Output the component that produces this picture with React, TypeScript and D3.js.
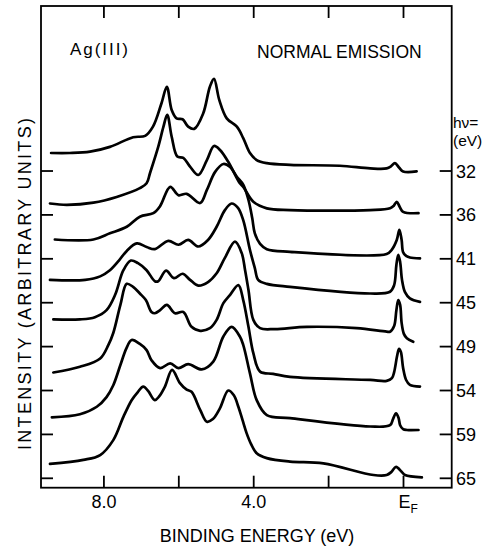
import React from "react";
import * as d3 from "d3";

type Pt = [number, number];

const photonEnergies = ["32", "36", "41", "45", "49", "54", "59", "65"];
const offsets = [70, 60, 50, 40, 30, 20, 10, 0];

// [binding energy (eV), intensity above the spectrum's own baseline (arb. units)]
const spectrum32: Pt[] = [[9.41,4.1],[8.91,4.1],[8.37,4.4],[7.84,5.5],[7.22,7.7],[6.90,8.0],[6.69,10.1],[6.46,15.5],[6.32,19.2],[6.19,13.9],[6.06,12.0],[5.90,11.8],[5.75,10.1],[5.59,9.6],[5.35,13.1],[5.17,19.2],[5.06,21.0],[4.92,16.2],[4.72,12.0],[4.45,10.1],[4.28,7.5],[4.10,4.1],[3.92,2.5],[3.65,1.8],[3.03,1.4],[1.70,1.2],[0.89,0.6],[0.45,0.6],[0.33,1.1],[0.23,1.8],[0.12,0.8],[0.01,-0.1],[-0.35,-0.1]];
const spectrum36: Pt[] = [[9.44,2.6],[8.99,2.3],[8.28,2.8],[7.66,4.1],[7.04,6.1],[6.86,7.2],[6.77,9.5],[6.55,15.5],[6.41,20.1],[6.31,22.8],[6.19,17.8],[6.04,13.3],[5.88,13.0],[5.70,11.0],[5.48,9.1],[5.25,12.5],[5.06,15.7],[4.90,14.8],[4.68,12.1],[4.37,7.2],[4.28,6.4],[4.01,3.0],[3.65,1.5],[3.03,1.1],[0.89,1.1],[0.36,1.5],[0.26,2.1],[0.18,3.0],[0.10,1.8],[0.01,0.7],[-0.40,0.4]];
const spectrum41: Pt[] = [[9.31,4.4],[8.28,4.4],[7.84,5.8],[7.39,7.3],[7.04,9.6],[6.68,10.4],[6.50,12.0],[6.23,16.4],[6.01,14.5],[5.79,14.8],[5.43,12.7],[5.25,15.7],[5.03,19.8],[4.81,21.6],[4.63,20.9],[4.45,18.7],[4.28,16.9],[4.14,13.4],[4.04,9.3],[3.97,5.8],[3.83,3.4],[3.65,2.2],[3.03,1.6],[0.45,1.1],[0.32,2.0],[0.18,4.3],[0.11,6.6],[0.05,4.3],[0.01,1.5],[-0.08,0.6],[-0.17,0.3],[-0.44,0.1]];
const spectrum45: Pt[] = [[9.44,5.2],[8.50,5.2],[8.10,6.0],[7.84,7.4],[7.60,9.6],[7.39,11.8],[7.12,13.5],[6.86,12.7],[6.64,12.2],[6.28,14.1],[6.01,13.2],[5.75,14.3],[5.48,12.8],[5.22,14.3],[4.99,17.3],[4.77,21.1],[4.59,22.6],[4.42,21.6],[4.28,18.8],[4.10,12.0],[3.97,7.9],[3.88,5.2],[3.65,4.3],[3.03,3.6],[0.89,2.1],[0.36,2.5],[0.25,4.0],[0.19,8.6],[0.14,10.9],[0.09,9.3],[0.04,5.2],[-0.04,2.4],[-0.17,1.0],[-0.44,0.2]];
const spectrum49: Pt[] = [[9.35,6.2],[8.64,6.2],[8.24,6.7],[7.93,8.3],[7.70,11.8],[7.48,17.4],[7.28,19.6],[7.09,19.0],[6.86,17.4],[6.64,14.9],[6.55,14.9],[6.34,17.3],[6.13,15.6],[5.90,16.6],[5.70,15.2],[5.48,13.9],[5.22,14.7],[4.99,16.7],[4.77,20.2],[4.50,23.9],[4.32,21.3],[4.23,17.4],[4.14,12.9],[4.01,6.1],[3.83,4.2],[3.43,4.0],[2.58,4.5],[1.25,4.2],[0.45,3.4],[0.36,3.4],[0.25,4.7],[0.19,8.3],[0.14,10.6],[0.09,9.5],[0.05,5.4],[-0.01,2.9],[-0.09,1.9],[-0.26,1.1]];
const spectrum54: Pt[] = [[9.35,4.1],[8.64,5.4],[8.10,7.3],[7.88,10.4],[7.75,13.1],[7.56,19.5],[7.39,24.3],[7.22,23.6],[7.04,22.1],[6.88,20.6],[6.73,17.9],[6.64,17.6],[6.50,18.3],[6.32,19.5],[6.10,17.6],[5.88,17.9],[5.66,14.5],[5.43,13.6],[5.17,14.2],[4.99,16.1],[4.81,19.9],[4.63,21.8],[4.41,24.0],[4.28,20.6],[4.14,14.5],[4.01,8.5],[3.83,4.3],[3.48,3.8],[3.03,3.1],[0.89,2.4],[0.45,2.2],[0.31,2.8],[0.25,4.2],[0.17,7.9],[0.12,9.5],[0.07,8.8],[0.01,5.1],[-0.07,2.4],[-0.17,1.3],[-0.44,0.9]];
const spectrum59: Pt[] = [[9.39,3.9],[8.64,4.6],[8.19,6.3],[7.93,8.5],[7.75,11.2],[7.56,15.8],[7.40,19.6],[7.26,21.5],[7.04,20.6],[6.86,19.2],[6.73,16.9],[6.50,15.1],[6.23,16.2],[6.01,15.1],[5.75,16.0],[5.39,14.8],[5.08,16.6],[4.81,22.3],[4.59,24.5],[4.37,22.3],[4.28,20.4],[4.10,13.9],[3.92,7.8],[3.65,4.4],[3.03,3.7],[0.89,1.8],[0.36,2.1],[0.28,3.5],[0.20,4.8],[0.13,3.7],[0.09,2.1],[0.01,1.2],[-0.09,1.0],[-0.40,1.0]];
const spectrum65: Pt[] = [[9.44,3.3],[8.55,4.2],[8.10,5.3],[7.75,8.7],[7.48,14.0],[7.26,17.8],[7.10,19.6],[6.95,20.9],[6.82,19.9],[6.64,17.8],[6.53,18.6],[6.37,20.9],[6.18,24.7],[5.97,21.7],[5.79,20.2],[5.66,19.7],[5.43,15.6],[5.25,12.9],[5.09,13.5],[4.90,16.0],[4.68,20.0],[4.53,18.9],[4.41,16.3],[4.30,13.3],[4.19,10.3],[4.07,7.8],[3.92,5.7],[3.65,4.6],[3.03,3.8],[2.14,3.4],[0.80,0.75],[0.45,0.75],[0.33,1.4],[0.20,2.6],[0.05,1.5],[-0.04,0.75],[-0.49,0.2]];

const spectra = [spectrum32, spectrum36, spectrum41, spectrum45, spectrum49, spectrum54, spectrum59, spectrum65];

const xTickValues = [8, 6, 4, 2, 0];
const xTickLabels = ["8.0", "", "4.0", "", "E"];

const FONT = "'Liberation Sans', Arial, sans-serif";

export default function App() {
  const W = 492;
  const H = 548;
  const left = 41, right = 451.7, top = 6, bottom = 487.7;
  const x = d3.scaleLinear().domain([9.68, -1.287]).range([left, right]);
  const y = d3.scaleLinear().domain([-2.14, 107.59]).range([bottom, top]);
  const line = d3
    .line<Pt>()
    .x((d) => x(d[0]))
    .y((d) => y(d[1]))
    .curve(d3.curveCatmullRom.alpha(0.5));

  const tickLen = 12;

  return (
    <svg
      width={W}
      height={H}
      style={{ position: "absolute", left: 0, top: 0, background: "#fff" }}
      fontFamily={FONT}
    >
      <rect x={0} y={0} width={W} height={H} fill="#fff" />
      {/* spectra */}
      {spectra.map((s, i) => (
        <path
          key={photonEnergies[i]}
          d={line(s.map(([e, v]) => [e, v + offsets[i]] as Pt)) || ""}
          fill="none"
          stroke="#000"
          strokeWidth={2.7}
          strokeLinejoin="round"
          strokeLinecap="round"
        />
      ))}
      {/* frame */}
      <rect x={left} y={top} width={right - left} height={bottom - top} fill="none" stroke="#000" strokeWidth={1.8} />
      {/* x ticks top & bottom */}
      {xTickValues.map((t) => (
        <g key={"xt" + t}>
          <line x1={x(t)} x2={x(t)} y1={top} y2={top + tickLen} stroke="#000" strokeWidth={1.8} />
          <line x1={x(t)} x2={x(t)} y1={bottom} y2={bottom - tickLen} stroke="#000" strokeWidth={1.8} />
        </g>
      ))}
      {/* y ticks left & right */}
      {offsets.map((o) => (
        <g key={"yt" + o}>
          <line x1={left} x2={left + tickLen} y1={y(o)} y2={y(o)} stroke="#000" strokeWidth={1.8} />
          <line x1={right} x2={right - tickLen} y1={y(o)} y2={y(o)} stroke="#000" strokeWidth={1.8} />
        </g>
      ))}
      {/* x tick labels */}
      {xTickValues.map((t, i) =>
        xTickLabels[i] === "" ? null : xTickLabels[i] === "E" ? (
          <text key={"xl" + t} x={x(t) - 5} y={508} fontSize={18}>
            E
            <tspan fontSize={12} dy={5}>F</tspan>
          </text>
        ) : (
          <text key={"xl" + t} x={x(t)} y={508} fontSize={18} textAnchor="middle">
            {xTickLabels[i]}
          </text>
        )
      )}
      {/* right labels */}
      {photonEnergies.map((p, i) => (
        <text key={"pl" + p} x={456} y={y(offsets[i]) + 6.5} fontSize={18}>
          {p}
        </text>
      ))}
      <text x={453} y={128} fontSize={15.5}>hν=</text>
      <text x={453} y={146} fontSize={15.5}>(eV)</text>
      {/* titles */}
      <text x={70} y={55} fontSize={17} textLength={58} lengthAdjust="spacing">Ag(III)</text>
      <text x={257} y={58} fontSize={17.5}>NORMAL EMISSION</text>
      <text x={257} y={541.5} fontSize={18} textAnchor="middle">BINDING ENERGY (eV)</text>
      <text
        transform="translate(31,284) rotate(-90)"
        fontSize={18}
        textAnchor="middle"
        textLength={332}
        lengthAdjust="spacing"
      >
        INTENSITY (ARBITRARY UNITS)
      </text>
    </svg>
  );
}
